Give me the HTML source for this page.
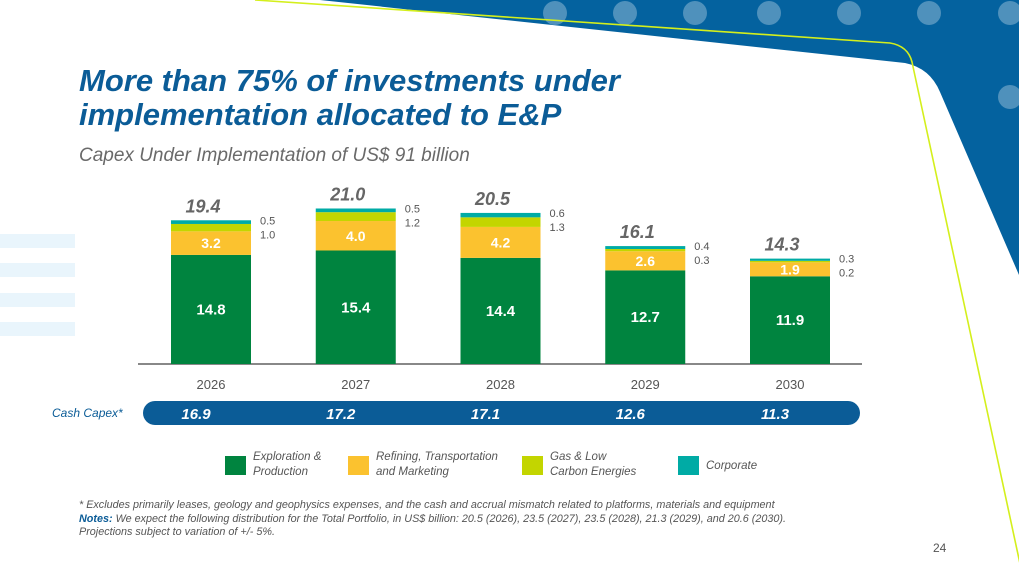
<!DOCTYPE html>
<html><head><meta charset="utf-8"><style>
body{margin:0;width:1019px;height:573px;overflow:hidden;background:#fff;font-family:"Liberation Sans",sans-serif;position:relative}
.abs{position:absolute}
</style></head><body>
<svg class="abs" style="left:0;top:0" width="1019" height="573">
<path d="M320,0 L1019,0 L1019,275 L940,92 Q930,68 905,63 Z" fill="#04629f"/>
<g fill="#ffffff" fill-opacity="0.3">
<circle cx="555" cy="13" r="12"/><circle cx="625" cy="13" r="12"/><circle cx="695" cy="13" r="12"/><circle cx="769" cy="13" r="12"/><circle cx="849" cy="13" r="12"/><circle cx="929" cy="13" r="12"/><circle cx="1010" cy="13" r="12"/><circle cx="1010" cy="97" r="12"/>
</g>
<path d="M255,0 L890,43 Q908,46 912,62 L1022,573" fill="none" stroke="#d4ef1c" stroke-width="1.6"/>
<g fill="#e9f5fc">
<rect x="0" y="234" width="75" height="14"/><rect x="0" y="263" width="75" height="14"/><rect x="0" y="293" width="75" height="14"/><rect x="0" y="322" width="75" height="14"/>
</g>
</svg>
<div class="abs" style="left:79px;top:64px;font-size:31px;line-height:34px;font-weight:bold;font-style:italic;color:#0b5c97">More than 75% of investments under<br>implementation allocated to E&amp;P</div>
<div class="abs" style="left:79px;top:145px;font-size:19px;font-style:italic;color:#6a6a6a">Capex Under Implementation of US$ 91 billion</div>

<svg id="chart" class="abs" style="left:0;top:0" width="1019" height="573"></svg>

<div class="abs" style="left:52px;top:406px;font-size:12px;font-style:italic;color:#0b5c97">Cash Capex*</div>

<div class="abs" style="left:79px;top:499px;font-size:10.8px;font-style:italic;color:#555;line-height:13.5px">* Excludes primarily leases, geology and geophysics expenses, and the cash and accrual mismatch related to platforms, materials and equipment<br><b style="color:#0b5c97">Notes:</b> We expect the following distribution for the Total Portfolio, in US$ billion: 20.5 (2026), 23.5 (2027), 23.5 (2028), 21.3 (2029), and 20.6 (2030).<br>Projections subject to variation of +/- 5%.</div>
<div class="abs" style="left:933px;top:541px;font-size:12px;color:#555">24</div>

<script>
const years=["2026","2027","2028","2029","2030"];
const ep=[14.8,15.4,14.4,12.7,11.9];
const rtm=[3.2,4.0,4.2,2.6,1.9];
const gas=[1.0,1.2,1.3,0.3,0.2];
const corp=[0.5,0.5,0.6,0.4,0.3];
const totals=["19.4","21.0","20.5","16.1","14.3"];
const cash=["16.9","17.2","17.1","12.6","11.3"];
const legendLabels=[["Exploration &","Production"],["Refining, Transportation","and Marketing"],["Gas & Low","Carbon Energies"],["Corporate"]];
const colors=["#00843f","#fbc22f","#c3d500","#00aba5"];
const NS="http://www.w3.org/2000/svg";
const svg=document.getElementById("chart");
const base=364,scale=7.37,x0=211,step=144.75,bw=80;
const xc=i=>x0+i*step;
const yv=v=>base-v*scale;
function mk(t,a){const e=document.createElementNS(NS,t);for(const k in a)e.setAttribute(k,a[k]);svg.appendChild(e);return e;}
function txt(x,y,s,a){const e=mk("text",Object.assign({x:x,y:y,"font-family":"Liberation Sans, sans-serif"},a));e.textContent=s;return e;}
let ax=mk("line",{x1:138,x2:862,y1:base,y2:base,stroke:"#888","stroke-width":2});


let pill=mk("rect",{x:143,y:401,width:717,height:24,rx:12,fill:"#0b5c97"});


const series=[ep,rtm,gas,corp];
years.forEach((yr,i)=>{
  let cum=0;
  series.forEach((s,k)=>{
    const r=mk("rect",{x:xc(i)-bw/2,y:yv(cum+s[i]),width:bw,height:s[i]*scale,fill:colors[k]});
    
    
    cum+=s[i];
  });
  let t=txt(xc(i),yv(ep[i]/2)+5,ep[i].toFixed(1),{"text-anchor":"middle","font-size":15,"font-weight":"bold",fill:"#fff"});
  
  
  t=txt(xc(i),yv(ep[i]+rtm[i]/2)+5,rtm[i].toFixed(1),{"text-anchor":"middle","font-size":14,"font-weight":"bold",fill:"#fff"});
  
  
  t=txt(xc(i)-8,yv(cum)-8,totals[i],{"text-anchor":"middle","font-size":18,"font-weight":"bold","font-style":"italic",fill:"#666"});
  
  
  t=txt(xc(i)+bw/2+9,yv(cum)+4,corp[i].toFixed(1),{"font-size":11,fill:"#555"});
  
  
  t=txt(xc(i)+bw/2+9,yv(cum)+18,gas[i].toFixed(1),{"font-size":11,fill:"#555"});
  
  
  t=txt(xc(i),389,yr,{"text-anchor":"middle","font-size":13,fill:"#555"});
  
  
  t=txt(xc(i)-15,419,cash[i],{"text-anchor":"middle","font-size":15,"font-weight":"bold","font-style":"italic",fill:"#fff"});
  
  
});
const lx=[225,348,522,678];
legendLabels.forEach((lab,k)=>{
  const r=mk("rect",{x:lx[k],y:456,width:21,height:19,fill:colors[k]});
  
  
  lab.forEach((line,j)=>{
    const y=lab.length===1?469:460+j*15;
    const t=txt(lx[k]+28,y,line,{"font-size":11.5,"font-style":"italic",fill:"#555"});
    
    
  });
});
</script>
</body></html>
